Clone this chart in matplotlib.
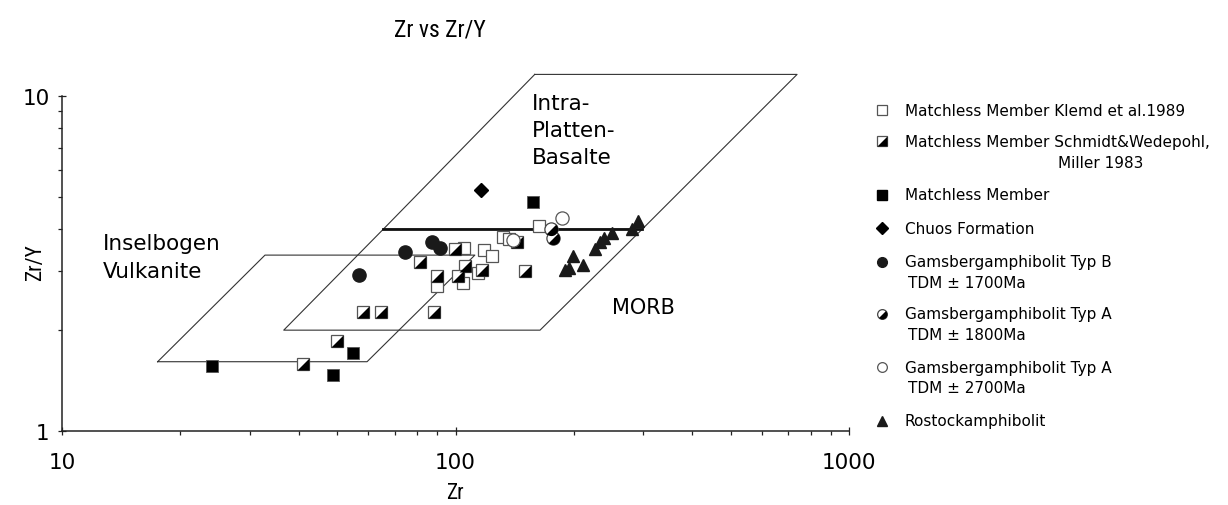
import numpy as np
import matplotlib
matplotlib.use('Agg')
import matplotlib.pyplot as plt
from matplotlib.ticker import LogLocator, NullFormatter, FixedLocator, FixedFormatter
from matplotlib import font_manager

# --- values (Zr ppm, Zr/Y) ---
klemd_zr = [105.1, 118.2, 123.8, 89.8, 104.5, 114.1, 132.0, 136.8, 163.0]
klemd_zry = [3.52, 3.47, 3.33, 2.71, 2.77, 2.96, 3.80, 3.74, 4.09]

schmidt_zr = [41.0, 50.0, 58.2, 64.7, 88.2, 81.2, 99.7, 89.8, 105.7, 101.5, 116.8, 143.3, 150.2]
schmidt_zry = [1.585, 1.857, 2.27, 2.27, 2.27, 3.20, 3.49, 2.90, 3.11, 2.90, 3.02, 3.67, 3.00]

matchless_zr = [24.05, 48.8, 54.9, 157.4]
matchless_zry = [1.563, 1.47, 1.71, 4.83]

chuos_zr = [116.1]
chuos_zry = [5.24]

typb_zr = [56.9, 74.4, 87.2, 91.3]
typb_zry = [2.92, 3.42, 3.67, 3.52]

typa18_zr = [174.9, 177.0]
typa18_zry = [4.01, 3.77]

typa27_zr = [186.5, 140.0]
typa27_zry = [4.32, 3.72]

rostock_zr = [198.9, 210.9, 189.8, 194.3, 226.2, 232.9, 238.4, 249.8, 280.9, 290.9]
rostock_zry = [3.33, 3.13, 3.02, 3.07, 3.49, 3.67, 3.77, 3.90, 4.01, 4.24]

# field boundaries
wpb_zr = [159, 738, 298, 65.5, 159]
wpb_zry = [11.6, 11.6, 4.0, 4.0, 11.6]
morb_zr = [65.5, 298, 164, 36.6, 65.5]
morb_zry = [4.0, 4.0, 2.0, 2.0, 4.0]
iab_zr = [17.5, 59.6, 112, 32.8, 17.5]
iab_zry = [1.61, 1.61, 3.35, 3.35, 1.61]
divide_zr = [65.5, 298]
divide_zry = [4.0, 4.0]

legend_labels = ["Matchless Member Klemd et al.1989",
                 "Matchless Member Schmidt&Wedepohl,",
                 "Matchless Member",
                 "Chuos Formation",
                 "Gamsbergamphibolit Typ B",
                 "Gamsbergamphibolit Typ A",
                 "Gamsbergamphibolit Typ A",
                 "Rostockamphibolit"]
legend_second = {1: "Miller 1983", 4: "TDM \u00b1 1700Ma", 5: "TDM \u00b1 1800Ma", 6: "TDM \u00b1 2700Ma"}

names = {f.name for f in font_manager.fontManager.ttflist}
narrow = [n for n in ['Liberation Sans Narrow', 'DejaVu Sans Condensed', 'Roboto Condensed']
          if n in names] + ['DejaVu Sans']
plain = ['DejaVu Sans']

tri = [(-1, -1), (1, -1), (1, 1)]
th = np.linspace(-0.75 * np.pi, 0.25 * np.pi, 41)
halfdisc = list(zip(np.cos(th), np.sin(th)))

W, H = 1228, 506
fig = plt.figure(figsize=(W / 100, H / 100), dpi=100)
ax = fig.add_axes([62 / W, 74 / H, 787 / W, 335 / H])
ax.set_facecolor('none')
ax.set_xscale('log')
ax.set_yscale('log')
ax.set_xlim(10, 1000)
ax.set_ylim(1, 10)

for s in ['top', 'right']:
    ax.spines[s].set_visible(False)
for s in ['left', 'bottom']:
    ax.spines[s].set_color('#222222')
    ax.spines[s].set_linewidth(1.1)

ax.xaxis.set_major_locator(FixedLocator([10, 100, 1000]))
ax.xaxis.set_major_formatter(FixedFormatter(['10', '100', '1000']))
ax.yaxis.set_major_locator(FixedLocator([1, 10]))
ax.yaxis.set_major_formatter(FixedFormatter(['1', '10']))
ax.xaxis.set_minor_locator(LogLocator(base=10, subs=np.arange(2, 10)))
ax.yaxis.set_minor_locator(LogLocator(base=10, subs=np.arange(2, 10)))
ax.xaxis.set_minor_formatter(NullFormatter())
ax.yaxis.set_minor_formatter(NullFormatter())
ax.tick_params(which='major', direction='inout', length=6, width=0.9, color='#222222',
               labelsize=15.5)
ax.tick_params(which='minor', direction='out', length=3, width=0.9, color='#222222')
ax.xaxis.set_tick_params(which='major', pad=12)
ax.yaxis.set_tick_params(which='major', pad=6)
for lab in ax.get_xticklabels() + ax.get_yticklabels():
    lab.set_family(plain)

# fields
lc = '#333333'
ax.plot(wpb_zr, wpb_zry, color=lc, lw=0.8, clip_on=False)
ax.plot(morb_zr, morb_zry, color=lc, lw=0.8, clip_on=False)
ax.plot(iab_zr, iab_zry, color=lc, lw=0.8, clip_on=False)
ax.plot(divide_zr, divide_zry, color='#111111', lw=2.0, clip_on=False)

ms_sq = 8.5
ms_c = 9.5
edge = '#555555'
ax.plot(klemd_zr, klemd_zry, ls='none', marker='s', ms=ms_sq, mfc='white', mec=edge, mew=0.9)
ax.plot(schmidt_zr, schmidt_zry, ls='none', marker='s', ms=ms_sq, mfc='white', mec=edge, mew=0.9)
ax.plot(schmidt_zr, schmidt_zry, ls='none', marker=tri, ms=ms_sq, mfc='black', mec='none')
ax.plot(matchless_zr, matchless_zry, ls='none', marker='s', ms=ms_sq, mfc='black', mec=edge, mew=0.6)
ax.plot(chuos_zr, chuos_zry, ls='none', marker='D', ms=7.5, mfc='black', mec='black')
ax.plot(typb_zr, typb_zry, ls='none', marker='o', ms=ms_c, mfc='#1a1a1a', mec='#1a1a1a')
ax.plot(typa18_zr, typa18_zry, ls='none', marker='o', ms=ms_c, mfc='white', mec='#444444', mew=0.9)
ax.plot(typa18_zr, typa18_zry, ls='none', marker=halfdisc, ms=ms_c, mfc='black', mec='none')
ax.plot(typa27_zr, typa27_zry, ls='none', marker='o', ms=ms_c, mfc='white', mec='#555555', mew=0.9)
ax.plot(rostock_zr, rostock_zry, ls='none', marker='^', ms=9, mfc='#1a1a1a', mec='#1a1a1a')

# overlay in pixel units for labels and legend
lax = fig.add_axes([0, 0, 1, 1], zorder=-1)
lax.set_xlim(0, W)
lax.set_ylim(H, 0)
lax.axis('off')

lax.text(440, 30, 'Zr vs Zr/Y', family=narrow, fontsize=17, ha='center', va='center')
lax.text(36, 263, 'Zr/Y', family=narrow, fontsize=15.5, ha='center', va='center', rotation=90)
lax.text(455, 494, 'Zr', family=narrow, fontsize=15.5, ha='center', va='center')

lax.text(532, 131, 'Intra-\nPlatten-\nBasalte', family=plain, fontsize=15.5,
         ha='left', va='center', linespacing=1.45)
lax.text(103, 258, 'Inselbogen\nVulkanite', family=plain, fontsize=15.5,
         ha='left', va='center', linespacing=1.45)
lax.text(612, 308, 'MORB', family=plain, fontsize=15, ha='left', va='center')

# legend
leg_y = [111, 142, 196, 229, 263, 315, 368, 422]
mx = 882
tx = 905
lms = 7.0
for i, (lab, y) in enumerate(zip(legend_labels, leg_y)):
    lax.text(tx, y, lab, family=plain, fontsize=11, ha='left', va='center')
    if i in legend_second:
        x2 = 1058 if i == 1 else 908
        lax.text(x2, y + 21, legend_second[i], family=plain, fontsize=11, ha='left', va='center')

lax.plot([mx], [leg_y[0]], marker='s', ms=lms, mfc='white', mec=edge, mew=0.9)
lax.plot([mx], [leg_y[1]], marker='s', ms=lms, mfc='white', mec=edge, mew=0.9)
lax.plot([mx], [leg_y[1]], marker=tri, ms=lms, mfc='black', mec='none')
lax.plot([mx], [leg_y[2]], marker='s', ms=lms, mfc='black', mec='black')
lax.plot([mx], [leg_y[3]], marker='D', ms=6.5, mfc='black', mec='black')
lax.plot([mx], [leg_y[4]], marker='o', ms=lms, mfc='#1a1a1a', mec='#1a1a1a')
lax.plot([mx], [leg_y[5]], marker='o', ms=lms, mfc='white', mec='#444444', mew=0.9)
lax.plot([mx], [leg_y[5]], marker=halfdisc, ms=lms, mfc='black', mec='none')
lax.plot([mx], [leg_y[6]], marker='o', ms=lms, mfc='white', mec='#555555', mew=0.9)
lax.plot([mx], [leg_y[7]], marker='^', ms=7, mfc='#1a1a1a', mec='#1a1a1a')

fig.savefig('out.png', dpi=100)
